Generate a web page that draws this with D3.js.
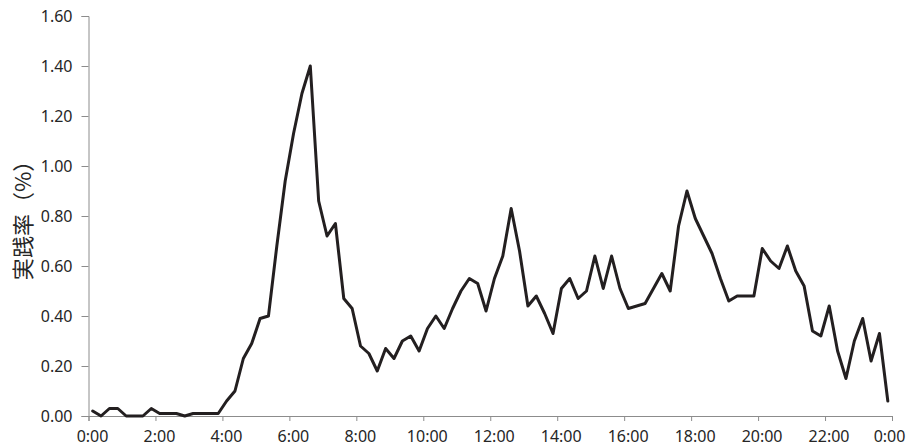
<!DOCTYPE html>
<html>
<head>
<meta charset="utf-8">
<script src="https://cdn.jsdelivr.net/npm/d3@7/dist/d3.min.js"></script>
<style>
  html, body { margin: 0; padding: 0; background: #fff; }
  svg { display: block; }
</style>
</head>
<body>
<svg id="chart" width="907" height="448"></svg>
<script>
// 15-minute slots over one day (96 categories)
const categories = [];
for (let h = 0; h < 24; h++) {
  for (let m = 0; m < 60; m += 15) categories.push(h + ":" + (m === 0 ? "00" : m));
}
// 実践率 (%) per 15-minute slot
const values = [
  0.02, 0.00, 0.03, 0.03, 0.00, 0.00, 0.00, 0.03,
  0.01, 0.01, 0.01, 0.00, 0.01, 0.01, 0.01, 0.01,
  0.06, 0.10, 0.23, 0.29, 0.39, 0.40, 0.68, 0.94,
  1.13, 1.29, 1.40, 0.86, 0.72, 0.77, 0.47, 0.43,
  0.28, 0.25, 0.18, 0.27, 0.23, 0.30, 0.32, 0.26,
  0.35, 0.40, 0.35, 0.43, 0.50, 0.55, 0.53, 0.42,
  0.55, 0.64, 0.83, 0.66, 0.44, 0.48, 0.41, 0.33,
  0.51, 0.55, 0.47, 0.50, 0.64, 0.51, 0.64, 0.51,
  0.43, 0.44, 0.45, 0.51, 0.57, 0.50, 0.76, 0.90,
  0.79, 0.72, 0.65, 0.55, 0.46, 0.48, 0.48, 0.48,
  0.67, 0.62, 0.59, 0.68, 0.58, 0.52, 0.34, 0.32,
  0.44, 0.26, 0.15, 0.30, 0.39, 0.22, 0.33, 0.06
];
const xTickLabels = ["0:00","2:00","4:00","6:00","8:00","10:00","12:00","14:00","16:00","18:00","20:00","22:00","0:00"];
const yTicks = [0, 0.2, 0.4, 0.6, 0.8, 1.0, 1.2, 1.4, 1.6];
const yTitle = "実践率（%）";

const svg = d3.select("#chart");
const mLeft = 88.5, mRight = 892, mTop = 16, mBottom = 416;
const axisColor = "#8c8c8c";
const textColor = "#262626";
const numFont = "'Noto Sans', 'Liberation Sans', sans-serif";

const x = d3.scaleLinear().domain([0, categories.length]).range([mLeft, mRight]);
const y = d3.scaleLinear().domain([0, 1.6]).range([mBottom, mTop]);

// Y axis
const yAxis = d3.axisLeft(y).tickValues(yTicks).tickFormat(d3.format(".2f")).tickSizeOuter(0).tickSize(7).tickPadding(9);
const gy = svg.append("g").attr("transform", `translate(${mLeft},0)`).call(yAxis);
gy.select(".domain").attr("stroke", axisColor).attr("stroke-width", 1);
gy.selectAll(".tick line").attr("stroke", axisColor).attr("stroke-width", 1);
gy.selectAll(".tick text").attr("fill", textColor).style("font-family", numFont).style("font-size", "16px");

// X axis
const tickIdx = xTickLabels.map((_, i) => i * 8);
const xAxis = d3.axisBottom(x).tickValues(tickIdx).tickFormat((d, i) => xTickLabels[i]).tickSizeOuter(0).tickSize(5).tickPadding(10);
const gx = svg.append("g").attr("transform", `translate(0,${mBottom})`).call(xAxis);
gx.select(".domain").attr("stroke", axisColor).attr("stroke-width", 1);
gx.selectAll(".tick line").attr("stroke", axisColor).attr("stroke-width", 1);
gx.selectAll(".tick text").attr("fill", textColor).style("font-family", numFont).style("font-size", "16px")
  .attr("dx", (d, i) => i === xTickLabels.length - 1 ? -3 : 3.5);

// Line
const line = d3.line().x((d, i) => x(i + 0.5)).y(d => y(d)).curve(d3.curveLinear);
svg.append("path").datum(values)
  .attr("d", line)
  .attr("fill", "none")
  .attr("stroke", "#231f20")
  .attr("stroke-width", 3)
  .attr("stroke-linejoin", "round")
  .attr("stroke-linecap", "round");

// Y title
svg.append("text")
  .attr("transform", "translate(21,215) rotate(-90)")
  .attr("text-anchor", "middle")
  .attr("dominant-baseline", "central")
  .attr("fill", textColor)
  .style("font-family", "'Noto Sans CJK JP', sans-serif")
  .style("font-size", "22px")
  .text(yTitle);
</script>
</body>
</html>
